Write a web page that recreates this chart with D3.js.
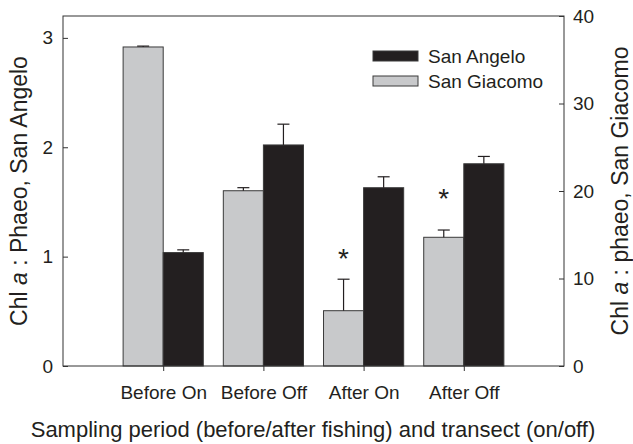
<!DOCTYPE html>
<html>
<head>
<meta charset="utf-8">
<script src="https://d3js.org/d3.v7.min.js"></script>
<style>
body { margin: 0; background: #fff; }
text { font-family: "Liberation Sans", Arial, sans-serif; fill: #231f20; }
</style>
</head>
<body>
<svg id="chart" width="633" height="444"></svg>
<script>
// values
var periods = ["Before On", "Before Off", "After On", "After Off"];
var angeloMean = [1.037, 2.021, 1.630, 1.849];   // left axis
var angeloErr = [0.025, 0.19, 0.10, 0.067];
var giacomoMean = [36.46, 20.03, 6.32, 14.71];   // right axis
var giacomoErr = [0.1, 0.35, 3.6, 0.83];
var starLevel = [null, null, 13.0, 19.9];        // right-axis units
var leftTicks = [0, 1, 2, 3];
var rightTicks = [0, 10, 20, 30, 40];
var seriesNames = ["San Angelo", "San Giacomo"];

var width = 633, height = 444;
var margin = {top: 16, right: 69, bottom: 78, left: 63};
var innerwidth = width - margin.left - margin.right;
var innerheight = height - margin.top - margin.bottom;
var darkFill = "#231f20", greyFill = "#c8c9cb", edge = "#3a3a3a";

var svg = d3.select("#chart");
var g = svg.append("g").attr("transform", "translate(" + margin.left + "," + margin.top + ")");

var x = d3.scalePoint().domain(periods).range([0, innerwidth]).padding(1);
var barW = x.step() * 0.4;
var yL = d3.scaleLinear().domain([0, 3.2]).range([innerheight, 0]);
var yR = d3.scaleLinear().domain([0, 40]).range([innerheight, 0]);

// bars - San Giacomo (grey, right axis) left of tick, San Angelo (black, left axis) right of tick
g.selectAll(".gbar").data(periods).enter().append("rect")
  .attr("class", "gbar")
  .attr("x", d => x(d) - barW)
  .attr("width", barW)
  .attr("y", (d, i) => yR(giacomoMean[i]))
  .attr("height", (d, i) => innerheight - yR(giacomoMean[i]))
  .attr("fill", greyFill).attr("stroke", edge).attr("stroke-width", 1);
g.selectAll(".abar").data(periods).enter().append("rect")
  .attr("class", "abar")
  .attr("x", d => x(d))
  .attr("width", barW)
  .attr("y", (d, i) => yL(angeloMean[i]))
  .attr("height", (d, i) => innerheight - yL(angeloMean[i]))
  .attr("fill", darkFill).attr("stroke", edge).attr("stroke-width", 1);

// error bars (upper only)
function errBars(cls, cx, y, mean, err) {
  var eg = g.selectAll("." + cls).data(periods).enter().append("g").attr("class", cls)
    .attr("stroke", darkFill).attr("stroke-width", 1.2);
  eg.append("line")
    .attr("x1", cx).attr("x2", cx)
    .attr("y1", (d, i) => y(mean[i])).attr("y2", (d, i) => y(mean[i] + err[i]));
  eg.append("line")
    .attr("x1", d => cx(d) - 6).attr("x2", d => cx(d) + 6)
    .attr("y1", (d, i) => y(mean[i] + err[i])).attr("y2", (d, i) => y(mean[i] + err[i]));
}
errBars("gerr", d => x(d) - barW / 2, yR, giacomoMean, giacomoErr);
errBars("aerr", d => x(d) + barW / 2, yL, angeloMean, angeloErr);

// significance stars
g.selectAll(".star").data(periods.filter((d, i) => starLevel[i] != null)).enter().append("text")
  .attr("class", "star")
  .attr("x", d => x(d) - barW / 2)
  .attr("y", d => yR(starLevel[periods.indexOf(d)]) + 16)
  .attr("text-anchor", "middle")
  .style("font-size", "28px")
  .text("*");

// frame
g.append("rect").attr("width", innerwidth).attr("height", innerheight)
  .attr("fill", "none").attr("stroke", "#333").attr("stroke-width", 1);

// axes
var yAxisL = g.append("g")
  .call(d3.axisLeft(yL).tickValues(leftTicks).tickSizeInner(-5).tickSizeOuter(0).tickPadding(10).tickFormat(d3.format("d")));
var yAxisR = g.append("g").attr("transform", "translate(" + innerwidth + ",0)")
  .call(d3.axisRight(yR).tickValues(rightTicks).tickSizeInner(-5).tickSizeOuter(0).tickPadding(9).tickFormat(d3.format("d")));
var xAxis = g.append("g").attr("transform", "translate(0," + innerheight + ")")
  .call(d3.axisBottom(x).tickSize(5).tickSizeOuter(0).tickPadding(14.5));
[yAxisL, yAxisR, xAxis].forEach(function(a) {
  a.select(".domain").remove();
  a.selectAll(".tick line").attr("stroke", "#333");
  a.selectAll(".tick text").style("font-size", "19px").style("font-family", "'Liberation Sans', Arial, sans-serif").attr("fill", "#231f20");
});

// axis titles
svg.append("text")
  .attr("transform", "translate(27," + (margin.top + innerheight / 2) + ") rotate(-90)")
  .attr("text-anchor", "middle").style("font-size", "23px")
  .html('Chl <tspan font-style="italic">a</tspan> : Phaeo, San Angelo');
svg.append("text")
  .attr("transform", "translate(628," + (margin.top + innerheight / 2) + ") rotate(-90)")
  .attr("text-anchor", "middle").style("font-size", "23px")
  .html('Chl <tspan font-style="italic">a</tspan> : phaeo, San Giacomo');
svg.append("text")
  .attr("x", 313).attr("y", 437)
  .attr("text-anchor", "middle").style("font-size", "22px")
  .text("Sampling period (before/after fishing) and transect (on/off)");

// legend
var legend = g.append("g").attr("transform", "translate(310,35)");
legend.selectAll("rect").data(seriesNames).enter().append("rect")
  .attr("x", 0).attr("y", (d, i) => i * 25)
  .attr("width", 45).attr("height", 10)
  .attr("fill", (d, i) => i == 0 ? darkFill : greyFill)
  .attr("stroke", edge).attr("stroke-width", 1);
legend.selectAll("text").data(seriesNames).enter().append("text")
  .attr("x", 55).attr("y", (d, i) => i * 25 + 12)
  .style("font-size", "19px")
  .text(d => d);
</script>
</body>
</html>
